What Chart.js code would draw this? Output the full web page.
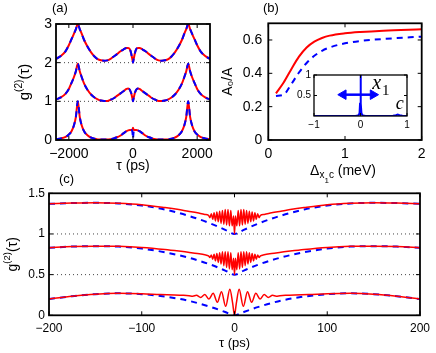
<!DOCTYPE html>
<html>
<head>
<meta charset="utf-8">
<script src="https://cdn.jsdelivr.net/npm/chart.js@4.4.0/dist/chart.umd.min.js"></script>
<style>
  html, body { margin: 0; padding: 0; background: #fff; }
  #wrap { position: relative; width: 436px; height: 353px; overflow: hidden; }
  #wrap canvas { position: absolute; left: 0; top: 0; width: 436px; height: 353px; }
  .lbl { position: absolute; font: 13px "Liberation Sans", Arial, sans-serif; color: #000; }
</style>
</head>
<body>
<div id="wrap">
  <canvas id="chartA" width="436" height="353"></canvas>
  <canvas id="chartB" width="436" height="353"></canvas>
  <canvas id="chartInset" width="436" height="353"></canvas>
  <canvas id="chartC" width="436" height="353"></canvas>
  <div class="lbl" style="left:52px;top:0px">(a)</div>
  <div class="lbl" style="left:263px;top:0px">(b)</div>
  <div class="lbl" style="left:59px;top:171px">(c)</div>
</div>
<script>
// ---------- DATA ----------

// panel (a): g2(tau) over long delays, three curves offset by 0, 1, 2
const tauA = [-2400,-2250,-2100,-2000,-1920,-1840,-1780,-1720,-1660,-1600,-1520,-1420,-1300,-1200,-1100,-1000,-900,-800,-700,-600,-500,-400,-300,-200,-150,-100,-60,-30,-15,0,
              15,30,60,100,150,200,300,400,500,600,700,800,900,1000,1100,1200,1300,1420,1520,1600,1660,1720,1780,1840,1920,2000,2100,2250,2400];
const gA2 = [2.10,2.17,2.30,2.45,2.60,2.75,2.87,3.00,2.87,2.75,2.58,2.42,2.26,2.16,2.09,2.06,2.05,2.06,2.10,2.16,2.22,2.29,2.34,2.38,2.38,2.35,2.25,2.13,2.07,2.00,
             2.07,2.13,2.25,2.35,2.38,2.38,2.34,2.29,2.22,2.16,2.10,2.06,2.05,2.06,2.09,2.16,2.26,2.42,2.58,2.75,2.87,3.00,2.87,2.75,2.60,2.45,2.30,2.17,2.10];
const gA1 = [1.05,1.10,1.20,1.32,1.47,1.63,1.78,1.97,1.78,1.63,1.45,1.30,1.17,1.10,1.05,1.02,1.01,1.01,1.04,1.08,1.14,1.20,1.26,1.32,1.33,1.30,1.22,1.12,1.06,1.00,
             1.06,1.12,1.22,1.30,1.33,1.32,1.26,1.20,1.14,1.08,1.04,1.01,1.01,1.02,1.05,1.10,1.17,1.30,1.45,1.63,1.78,1.97,1.78,1.63,1.47,1.32,1.20,1.10,1.05];
const gA0red = [0.02,0.04,0.08,0.14,0.22,0.38,0.60,1.00,0.60,0.38,0.22,0.12,0.06,0.03,0.015,0.01,0.01,0.01,0.02,0.04,0.07,0.11,0.17,0.23,0.25,0.26,0.26,0.26,0.27,0.32,
                0.27,0.26,0.26,0.26,0.25,0.23,0.17,0.11,0.07,0.04,0.02,0.01,0.01,0.01,0.015,0.03,0.06,0.12,0.22,0.38,0.60,1.00,0.60,0.38,0.22,0.14,0.08,0.04,0.02];
const gA0blue = [0.02,0.04,0.08,0.14,0.22,0.38,0.60,1.00,0.60,0.38,0.22,0.12,0.06,0.03,0.015,0.01,0.01,0.01,0.02,0.04,0.07,0.11,0.17,0.23,0.25,0.26,0.26,0.24,0.18,0.03,
                 0.18,0.24,0.26,0.26,0.25,0.23,0.17,0.11,0.07,0.04,0.02,0.01,0.01,0.01,0.015,0.03,0.06,0.12,0.22,0.38,0.60,1.00,0.60,0.38,0.22,0.14,0.08,0.04,0.02];
const refA = [1, 2];
const ticksAx = [-2000, 0, 2000];
const labelsAx = ['\u22122000', '0', '2000'];
const ticksAy = [0, 1, 2, 3];
const labelsAy = ['0', '1', '2', '3'];

// panel (b): A0/A versus detuning
const bDelta = [0.1,0.2,0.3,0.4,0.5,0.6,0.7,0.8,1.0,1.2,1.5,2.0];
const bRed   = [0.28,0.345,0.425,0.50,0.555,0.59,0.612,0.626,0.64,0.648,0.656,0.664];
const bBlue  = [0.264,0.272,0.335,0.405,0.462,0.505,0.535,0.555,0.58,0.594,0.606,0.62];
const ticksBx = [0, 1, 2];
const labelsBx = ['0', '1', '2'];
const ticksBy = [0, 0.2, 0.4, 0.6];
const labelsBy = ['0', '0.2', '0.4', '0.6'];

// inset of (b): spectrum
const insX = [-1,-0.2,-0.1,-0.06,-0.035,-0.02,-0.01,0,0.01,0.02,0.035,0.06,0.1,0.2,0.6,0.7,0.76,0.8,0.84,0.9,1];
const insY = [0,0,0.005,0.01,0.03,0.08,0.3,1,0.3,0.08,0.03,0.01,0.005,0,0,0.005,0.02,0.035,0.02,0.005,0];
const arrowX = [-0.37, 0.27];
const arrowY = [0.52, 0.52];
const insTicksX = [-1, 0, 1];
const insLabelsX = ['\u22121', '0', '1'];
const insTicksY = [0.5, 1];
const insLabelsY = ['0.5', '1'];

// panel (c): g2(tau) at short delays
const tauCb = [-200,-175,-150,-125,-100,-75,-50,-25,-10,0,10,25,50,75,100,125,150,175,200];
const gC2blue = [1.37,1.38,1.383,1.375,1.35,1.30,1.225,1.125,1.05,1.0,1.05,1.125,1.225,1.30,1.35,1.375,1.383,1.38,1.37];
const gC1blue = [0.83,0.845,0.85,0.845,0.82,0.775,0.71,0.62,0.55,0.5,0.55,0.62,0.71,0.775,0.82,0.845,0.85,0.845,0.83];
const gC0blue = [0.2,0.235,0.26,0.27,0.26,0.23,0.18,0.1,0.04,0.0,0.04,0.1,0.18,0.23,0.26,0.27,0.26,0.235,0.2];

const tauCr = [-200,-175,-150,-125,-100,-75,-60,-50,-40,-32,
               -28,-26.5,-25,-23.5,-22,-20.5,-19,-17.5,-16,-14.5,-13,-11.5,-10,-8.5,-7,-5.5,-4,-2.5,-1,0,
               1,2.5,4,5.5,7,8.5,10,11.5,13,14.5,16,17.5,19,20.5,22,23.5,25,26.5,28,
               32,40,50,60,75,100,125,150,175,200];
const gC2red = [1.37,1.38,1.385,1.378,1.36,1.325,1.30,1.28,1.26,1.24,
                1.23,1.20,1.25,1.18,1.26,1.16,1.27,1.15,1.28,1.13,1.29,1.12,1.30,1.11,1.30,1.10,1.29,1.10,1.22,1.00,
                1.22,1.10,1.29,1.10,1.30,1.11,1.30,1.12,1.29,1.13,1.28,1.15,1.27,1.16,1.26,1.18,1.25,1.20,1.23,
                1.24,1.26,1.28,1.30,1.325,1.36,1.378,1.385,1.38,1.37];
const gC1red = [0.83,0.845,0.85,0.848,0.835,0.81,0.79,0.775,0.76,0.745,
                0.73,0.71,0.74,0.69,0.75,0.67,0.76,0.65,0.77,0.63,0.78,0.61,0.78,0.59,0.78,0.57,0.77,0.56,0.70,0.50,
                0.70,0.56,0.77,0.57,0.78,0.59,0.78,0.61,0.78,0.63,0.77,0.65,0.76,0.67,0.75,0.69,0.74,0.71,0.73,
                0.745,0.76,0.775,0.79,0.81,0.835,0.848,0.85,0.845,0.83];
const tauC0r = [-200,-175,-150,-125,-100,-80,-65,-55,-49,-45,-41,-36.5,-32,-27.5,-23,-18.5,-14,-9.5,-5,-2,0,
                2,5,9.5,14,18.5,23,27.5,32,36.5,41,45,49,55,65,80,100,125,150,175,200];
const gC0red = [0.2,0.235,0.26,0.27,0.265,0.255,0.25,0.245,0.24,0.235,0.245,0.22,0.255,0.2,0.27,0.16,0.29,0.11,0.32,0.15,0.0,
                0.15,0.32,0.11,0.29,0.16,0.27,0.2,0.255,0.22,0.245,0.235,0.24,0.245,0.25,0.255,0.265,0.27,0.26,0.235,0.2];
const refC = [0.5, 1];
const ticksCx = [-200, -100, 0, 100, 200];
const labelsCx = ['\u2212200', '\u2212100', '0', '100', '200'];
const ticksCy = [0, 0.5, 1, 1.5];
const labelsCy = ['0', '0.5', '1', '1.5'];

// ---------- HELPERS ----------

const FONT = '"Liberation Sans", Arial, sans-serif';
const RED = '#ff0000';
const BLUE = '#0000ff';
const W = 436, H = 353;

const pts = (xs, ys) => xs.map((x, i) => ({ x: x, y: ys[i] }));

// black box round the plot area with MATLAB-style inward ticks
const framePlugin = {
  id: 'frame',
  afterDatasetsDraw(chart, args, opts) {
    const { ctx, chartArea: a, scales } = chart;
    const len = opts.tick || 4;
    ctx.save();
    ctx.strokeStyle = '#000';
    ctx.lineWidth = opts.width || 1.8;
    ctx.strokeRect(a.left, a.top, a.right - a.left, a.bottom - a.top);
    ctx.lineWidth = 1;
    ctx.beginPath();
    scales.x.ticks.forEach(t => {
      const px = scales.x.getPixelForValue(t.value);
      ctx.moveTo(px, a.bottom); ctx.lineTo(px, a.bottom - len);
      ctx.moveTo(px, a.top); ctx.lineTo(px, a.top + len);
    });
    scales.y.ticks.forEach(t => {
      const py = scales.y.getPixelForValue(t.value);
      ctx.moveTo(a.left, py); ctx.lineTo(a.left + len, py);
      ctx.moveTo(a.right, py); ctx.lineTo(a.right - len, py);
    });
    ctx.stroke();
    ctx.restore();
  }
};

// rotated "g(2)(tau)" label with a real superscript
function g2Title(centerX, size) {
  return {
    id: 'g2Title',
    afterDraw(chart) {
      const { ctx, chartArea: a } = chart;
      const parts = [['g', size, 0], ['(2)', size * 0.68, -size * 0.42], ['(\u03c4)', size, 0]];
      ctx.save();
      ctx.fillStyle = '#000';
      ctx.textBaseline = 'middle';
      let total = 0;
      parts.forEach(p => { ctx.font = p[1] + 'px ' + FONT; total += ctx.measureText(p[0]).width; });
      ctx.translate(centerX, (a.top + a.bottom) / 2);
      ctx.rotate(-Math.PI / 2);
      let x = -total / 2;
      parts.forEach(p => {
        ctx.font = p[1] + 'px ' + FONT;
        ctx.fillText(p[0], x, p[2]);
        x += ctx.measureText(p[0]).width;
      });
      ctx.restore();
    }
  };
}

// area = wanted chart area in page pixels; yW / xH = room for the axes
function makeChart(id, area, yW, xH, datasets, ax, extraPlugins, frameOpts) {
  const axis = (o, isX) => ({
    type: 'linear',
    min: o.min, max: o.max,
    grid: { display: false, drawTicks: false },
    border: { display: false },
    ticks: {
      autoSkip: false, maxRotation: 0, padding: o.pad,
      color: '#000',
      font: { family: FONT, size: o.size },
      callback: (v, i) => o.labels[i]
    },
    title: o.title ? {
      display: true, text: o.title, color: '#000',
      font: { family: FONT, size: o.titleSize },
      padding: isX ? { top: 0, bottom: o.titlePad } : { top: o.titlePad, bottom: 0 }
    } : { display: false },
    afterBuildTicks: s => { s.ticks = o.ticks.map(v => ({ value: v })); },
    afterFit: s => { if (isX) s.height = xH; else s.width = yW; }
  });
  return new Chart(document.getElementById(id), {
    type: 'line',
    data: { datasets: datasets },
    options: {
      responsive: false,
      animation: false,
      events: [],
      layout: {
        padding: { left: area.left - yW, top: area.top, right: W - area.right, bottom: H - area.bottom - xH }
      },
      elements: { point: { radius: 0 }, line: { tension: 0 } },
      scales: { x: axis(ax.x, true), y: axis(ax.y, false) },
      plugins: {
        legend: { display: false },
        tooltip: { enabled: false },
        frame: frameOpts || {}
      }
    },
    plugins: [framePlugin].concat(extraPlugins || [])
  });
}

const redLine = (data, w, order) => ({ data: data, borderColor: RED, borderWidth: w, fill: false, order: order, cubicInterpolationMode: 'monotone' });
const blueDash = (data, w, order) => ({ data: data, borderColor: BLUE, borderWidth: w, borderDash: [6, 5], fill: false, order: order, cubicInterpolationMode: 'monotone' });
const refLine = (y, x0, x1) => ({ data: [{ x: x0, y: y }, { x: x1, y: y }], borderColor: '#444', borderWidth: 1, borderDash: [1, 3], fill: false, order: 10 });

// ---------- PANEL (a) ----------
makeChart('chartA', { left: 56, top: 24, right: 210, bottom: 140 }, 39, 36, [
  ...refA.map(v => refLine(v, -2400, 2400)),
  redLine(pts(tauA, gA2), 2, 5), redLine(pts(tauA, gA1), 2, 5), redLine(pts(tauA, gA0red), 2, 5),
  blueDash(pts(tauA, gA2), 2, 1), blueDash(pts(tauA, gA1), 2, 1), blueDash(pts(tauA, gA0blue), 2, 1)
], {
  x: { min: -2400, max: 2400, ticks: ticksAx, labels: labelsAx, pad: 6, size: 14, title: '\u03c4 (ps)', titleSize: 14, titlePad: 1 },
  y: { min: 0, max: 3, ticks: ticksAy, labels: labelsAy, pad: 4, size: 14 }
}, [g2Title(25, 15)]);

// ---------- PANEL (b) ----------
const deltaTitle = {
  id: 'deltaTitle',
  afterDraw(chart) {
    const { ctx, chartArea: a } = chart;
    const parts = [
      ['\u0394', 14, 0], ['x', 10, 3], ['1', 8, 8], ['c', 10, 3], [' (meV)', 14, 0]
    ];
    ctx.save();
    ctx.fillStyle = '#000';
    ctx.textBaseline = 'alphabetic';
    let total = 0;
    parts.forEach(p => { ctx.font = p[1] + 'px ' + FONT; total += ctx.measureText(p[0]).width; });
    let x = (a.left + a.right) / 2 - total / 2 - 2;
    const base = a.bottom + 35;
    parts.forEach(p => {
      ctx.font = p[1] + 'px ' + FONT;
      ctx.fillText(p[0], x, base + p[2]);
      x += ctx.measureText(p[0]).width;
    });
    ctx.restore();
  }
};
makeChart('chartB', { left: 268.3, top: 23.3, right: 421.7, bottom: 140 }, 49, 36, [
  redLine(pts(bDelta, bRed), 2, 2),
  blueDash(pts(bDelta, bBlue), 2, 1)
], {
  x: { min: 0, max: 2, ticks: ticksBx, labels: labelsBx, pad: 6, size: 14 },
  y: { min: 0, max: 0.7, ticks: ticksBy, labels: labelsBy, pad: 6, size: 14, title: 'A\u2080/A', titleSize: 14, titlePad: 0 }
}, [deltaTitle]);

// ---------- INSET of (b) ----------
const insetLabels = {
  id: 'insetLabels',
  afterDraw(chart) {
    const { ctx, scales } = chart;
    const serif = '"Liberation Serif", "DejaVu Serif", serif';
    ctx.save();
    ctx.fillStyle = '#000';
    ctx.textBaseline = 'alphabetic';
    ctx.font = 'italic 20px ' + serif;
    const xx = scales.x.getPixelForValue(0.25), xy = scales.y.getPixelForValue(0.67);
    ctx.fillText('x', xx, xy);
    const w = ctx.measureText('x').width;
    ctx.font = '15px ' + serif;
    ctx.fillText('1', xx + w + 1, xy + 6);
    ctx.font = 'italic 18px ' + serif;
    ctx.fillText('c', scales.x.getPixelForValue(0.76), scales.y.getPixelForValue(0.16));
    ctx.restore();
  }
};
makeChart('chartInset', { left: 314, top: 75, right: 407, bottom: 116 }, 20, 14, [
  { data: pts(insX, insY), borderColor: BLUE, borderWidth: 2, fill: false, order: 2 },
  { data: pts(arrowX, arrowY), borderColor: BLUE, borderWidth: 2.5, fill: false, order: 1,
    pointStyle: 'triangle', pointRadius: 5.5, pointRotation: [270, 90],
    pointBackgroundColor: BLUE, pointBorderColor: BLUE, pointBorderWidth: 1 }
], {
  x: { min: -1, max: 1, ticks: insTicksX, labels: insLabelsX, pad: 3, size: 10 },
  y: { min: 0, max: 1, ticks: insTicksY, labels: insLabelsY, pad: 3, size: 10 }
}, [insetLabels], { width: 1.3, tick: 3 });

// ---------- PANEL (c) ----------
makeChart('chartC', { left: 49, top: 193.3, right: 422.7, bottom: 315.3 }, 43, 37.7, [
  ...refC.map(v => refLine(v, -200, 200)),
  blueDash(pts(tauCb, gC2blue), 2, 3), blueDash(pts(tauCb, gC1blue), 2, 3), blueDash(pts(tauCb, gC0blue), 2, 3),
  redLine(pts(tauCr, gC2red), 1.5, 2), redLine(pts(tauCr, gC1red), 1.5, 2), redLine(pts(tauC0r, gC0red), 1.5, 2)
], {
  x: { min: -200, max: 200, ticks: ticksCx, labels: labelsCx, pad: 6, size: 12, title: '\u03c4 (ps)', titleSize: 13, titlePad: 2 },
  y: { min: 0, max: 1.5, ticks: ticksCy, labels: labelsCy, pad: 4, size: 12 }
}, [g2Title(13, 14)]);
</script>
</body>
</html>
